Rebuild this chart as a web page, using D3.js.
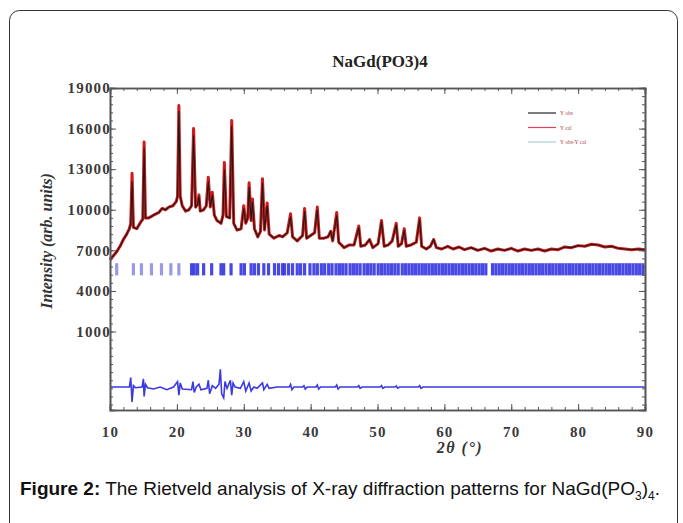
<!DOCTYPE html>
<html>
<head>
<meta charset="utf-8">
<script src="https://cdn.jsdelivr.net/npm/d3@7"></script>
<style>
  body { margin: 0; background: #fff; }
  svg { display: block; }
  .tick-label { font-family: "Liberation Serif", "DejaVu Serif", serif; font-weight: bold; fill: #3a3a3a; }
  .axis path, .axis line { stroke: #555; }
</style>
</head>
<body>
<div id="chart"></div>
<script>
// 2theta grid for observed / calculated profile
const twoTheta = [
  10.0,10.5,11.0,11.5,12.0,12.5,12.9,13.1,13.3,13.5,
  14.0,14.6,14.9,15.1,15.3,15.8,16.5,17.3,17.8,18.3,
  18.8,19.4,19.9,20.1,20.3,20.5,20.8,21.3,21.8,22.2,
  22.5,22.8,23.1,23.3,23.5,24.0,24.4,24.7,25.0,25.3,
  25.6,26.0,26.6,26.9,27.1,27.4,27.9,28.2,28.5,29.0,
  29.6,30.0,30.3,30.6,30.8,31.1,31.3,31.6,32.1,32.5,
  32.8,33.1,33.5,33.8,34.5,35.3,35.8,36.5,37.0,37.3,
  38.0,38.8,39.1,39.4,40.0,40.6,41.0,41.3,42.0,42.6,
  43.0,43.3,43.9,44.2,45.0,45.8,46.5,47.2,47.5,48.2,
  48.8,49.3,50.1,50.6,51.0,51.6,52.2,52.8,53.1,53.6,
  54.0,54.3,55.0,55.8,56.3,56.6,57.3,57.9,58.4,58.8,
  59.6,60.5,61.3,62.2,63.0,64.0,65.0,66.0,67.0,68.0,
  69.0,70.0,71.0,72.0,73.0,74.0,75.0,76.0,77.0,78.0,
  79.0,80.0,81.0,82.0,83.0,84.0,85.0,86.0,87.0,88.0,
  89.0,90.0
];

const yObs = [
  6300,6600,6900,7300,7800,8200,8600,9000,12700,8700,
  8600,9100,9300,15000,9400,9400,9600,9800,10100,10000,
  10200,10300,10600,11000,17700,11000,10300,9900,10000,10300,
  16000,10200,10400,11100,9900,10000,10300,12400,10200,11300,
  9600,9200,9000,9600,13500,9500,9400,16600,9000,8500,
  8600,10300,9000,9400,12000,9200,10800,8600,8000,8400,
  12300,8500,10500,8200,7900,8100,8000,8300,9700,8000,
  7700,8100,10100,7900,8100,8300,10200,7900,7900,8000,
  8400,7700,9800,7600,7200,7400,7400,8800,7300,7400,
  7800,7200,7500,9200,7300,7400,7700,9000,7300,7500,
  8600,7300,7400,7600,9400,7300,7100,7300,7800,7200,
  7100,7300,7100,7250,7050,7200,7000,7150,6950,7100,
  7000,7150,6950,7100,7000,7100,6950,7100,7050,7250,
  7200,7350,7300,7450,7400,7250,7300,7150,7100,7050,
  7100,7050
];

const yCalc = [
  6300,6600,6900,7300,7800,8200,8600,9000,12100,8700,
  8600,9100,9300,14600,9400,9400,9600,9800,10100,10000,
  10200,10300,10600,11000,17300,11000,10300,9900,10000,10300,
  15500,10200,10400,11000,9900,10000,10300,12100,10200,11100,
  9600,9200,9000,9600,13000,9500,9400,16200,9000,8500,
  8600,10100,9000,9400,11700,9200,10600,8600,8000,8400,
  12000,8500,10300,8200,7900,8100,8000,8300,9500,8000,
  7700,8100,9900,7900,8100,8300,10000,7900,7900,8000,
  8400,7700,9600,7600,7200,7400,7400,8700,7300,7400,
  7800,7200,7500,9100,7300,7400,7700,8900,7300,7500,
  8500,7300,7400,7600,9300,7300,7100,7300,7800,7200,
  7100,7300,7100,7250,7050,7200,7000,7150,6950,7100,
  7000,7150,6950,7100,7000,7100,6950,7100,7050,7250,
  7200,7350,7300,7450,7400,7250,7300,7150,7100,7050,
  7100,7050
];

// difference curve (Yobs - Ycalc, shifted down)
const diffTheta = [10,12.9,13.1,13.3,13.5,13.8,14.8,15.0,15.1,15.3,
  15.6,16.5,17.5,18.5,19.5,20.1,20.3,20.5,20.8,22.2,
  22.4,22.6,22.9,23.3,23.6,24.5,24.7,24.9,25.3,25.8,
  26.3,26.5,26.7,27.0,27.2,27.5,28.0,28.2,28.4,28.7,
  29.5,30.0,30.3,30.8,31.1,31.5,32.0,32.8,33.0,33.5,
  33.8,35.0,36.8,37.0,37.2,37.5,38.8,39.0,39.2,39.5,
  40.8,41.0,41.2,41.5,43.7,43.9,44.1,44.4,47.0,47.2,
  47.4,47.7,50.4,50.6,50.8,51.1,52.6,52.8,53.0,53.3,
  56.1,56.3,56.5,56.8,90];
const diffVal = [-3100,-3100,-2400,-4200,-3000,-3150,-3100,-2500,-3800,-2900,
  -3150,-3250,-3100,-3300,-3100,-2700,-3700,-2800,-3250,-3300,
  -2700,-3500,-3100,-2900,-3300,-3200,-2600,-3600,-3000,-3200,
  -2900,-1800,-3600,-3900,-2700,-3200,-2600,-3700,-2800,-3100,
  -3200,-2700,-3400,-2800,-3400,-3100,-3200,-2800,-3300,-2900,
  -3200,-3100,-3100,-2900,-3300,-3100,-3100,-3000,-3250,-3100,
  -3100,-2950,-3250,-3100,-3100,-2950,-3250,-3100,-3100,-3000,
  -3200,-3100,-3100,-3000,-3200,-3100,-3100,-3020,-3180,-3100,
  -3100,-3000,-3200,-3100,-3100];

// Bragg reflection positions
const braggPos = [11.0,13.5,14.7,16.2,17.7,19.1,20.3,22.2,22.6,23.1,24.0,25.2,26.6,27.0,28.1,29.6,30.1,31.1,31.6,32.2,
  33.0,33.7,34.6,35.2,35.8,36.1,36.7,37.3,38.0,38.5,39.1,39.9,40.5,41.0,41.6,42.1,42.7,43.2,43.8,44.3,
  44.8,45.3,45.9,46.4,46.9,47.4,48.0,48.5,49.0,49.5,50.1,50.6,51.1,51.6,52.1,52.6,53.1,53.7,54.2,54.7,
  55.2,55.7,56.2,56.7,57.2,57.7,58.2,58.7,59.2,59.7,60.2,60.7,61.2,61.7,62.2,62.7,63.2,63.7,64.2,64.7,
  65.2,65.7,66.2,67.2,67.7,68.2,68.7,69.2,69.7,70.2,70.7,71.2,71.7,72.2,72.7,73.2,73.7,74.2,74.7,75.2,
  75.7,76.2,76.7,77.2,77.7,78.2,78.7,79.2,79.7,80.2,80.7,81.2,81.7,82.2,82.7,83.2,83.7,84.2,84.7,85.2,
  85.7,86.2,86.7,87.2,87.7,88.2,88.7,89.2,89.7];
const braggTop = 6050, braggBottom = 5150;

const xTicks = [10,20,30,40,50,60,70,80,90];
const yTicks = [1000,4000,7000,10000,13000,16000,19000];
const legendLabels = ["Y obs", "Y cal", "Y obs-Y cal"];

class XrdPlot {
  constructor(_config) {
    this.config = {
      parentElement: _config.parentElement,
      containerWidth: 683,
      containerHeight: 523,
      plot: {left: 110, right: 645, top: 88, bottom: 410}
    };
    this.initVis();
  }

  initVis() {
    let vis = this;
    const p = vis.config.plot;

    vis.svg = d3.select(vis.config.parentElement).append('svg')
        .attr('width', vis.config.containerWidth)
        .attr('height', vis.config.containerHeight);

    // outer rounded frame
    vis.svg.append('rect')
        .attr('x', 9.5).attr('y', 10.5)
        .attr('width', 668).attr('height', 540)
        .attr('rx', 10)
        .attr('fill', 'none')
        .attr('stroke', '#333');

    vis.x = d3.scaleLinear().domain([10, 90]).range([p.left, p.right]);
    vis.y = d3.scaleLinear().domain([-4800, 19000]).range([p.bottom, p.top]);

    vis.svg.append('text')
        .attr('x', 380).attr('y', 67)
        .attr('text-anchor', 'middle')
        .attr('class', 'tick-label')
        .style('font-size', '17px')
        .style('fill', '#222')
        .text('NaGd(PO3)4');

    // bragg ticks
    vis.svg.append('g').selectAll('rect')
        .data(braggPos)
      .join('rect')
        .attr('x', d => vis.x(d) - 1.6)
        .attr('y', vis.y(braggTop))
        .attr('width', 3.2)
        .attr('height', vis.y(braggBottom) - vis.y(braggTop))
        .attr('fill', d => d < 22 ? '#8f8fe0' : '#3434e0')
        .attr('opacity', 0.9);

    const obs = twoTheta.map((t, i) => [t, yObs[i]]);
    const calc = twoTheta.map((t, i) => [t, yCalc[i]]);
    const diff = diffTheta.map((t, i) => [t, diffVal[i]]);
    const line = d3.line().x(d => vis.x(d[0])).y(d => vis.y(d[1]));

    vis.svg.append('path').datum(obs)
        .attr('d', line).attr('fill', 'none')
        .attr('stroke', '#d11a1a').attr('stroke-width', 3).attr('stroke-linejoin', 'round');
    vis.svg.append('path').datum(calc)
        .attr('d', line).attr('fill', 'none')
        .attr('stroke', '#1a1a1a').attr('stroke-width', 1.1);

    vis.svg.append('path').datum(diff)
        .attr('d', line).attr('fill', 'none')
        .attr('stroke', '#3a3ae0').attr('stroke-width', 1.6);

    // legend
    const legColors = ['#222', '#e0405a', '#a8d0d0'];
    const leg = vis.svg.append('g').attr('transform', 'translate(528,113)');
    leg.selectAll('line').data(legendLabels).join('line')
        .attr('x1', 0).attr('x2', 28)
        .attr('y1', (d, i) => i * 14.5).attr('y2', (d, i) => i * 14.5)
        .attr('stroke', (d, i) => legColors[i]).attr('stroke-width', 1.2);
    leg.selectAll('text').data(legendLabels).join('text')
        .attr('x', 32).attr('y', (d, i) => i * 14.5 + 2)
        .style('font-family', 'Liberation Serif, serif')
        .style('font-size', '5.5px')
        .style('fill', '#a44')
        .text(d => d);

    vis.drawAxes();
  }

  drawAxes() {
    let vis = this;
    const p = vis.config.plot;
    const xMinor = d3.range(10, 91, 2);
    const yMinor = d3.range(-4400, 19001, 600);

    const addAxis = (axis, tx, ty) => {
      const g = vis.svg.append('g').attr('class', 'axis')
          .attr('transform', `translate(${tx},${ty})`).call(axis);
      g.select('.domain').attr('stroke-width', 1.6);
      return g;
    };

    // minor ticks on all four sides
    addAxis(d3.axisBottom(vis.x).tickValues(xMinor).tickSize(-3).tickFormat(''), 0, p.bottom);
    addAxis(d3.axisTop(vis.x).tickValues(xMinor).tickSize(-3).tickFormat(''), 0, p.top);
    addAxis(d3.axisLeft(vis.y).tickValues(yMinor).tickSize(-3).tickFormat(''), p.left, 0);
    addAxis(d3.axisRight(vis.y).tickValues(yMinor).tickSize(-3).tickFormat(''), p.right, 0);

    // major ticks
    const xb = addAxis(d3.axisBottom(vis.x).tickValues(xTicks).tickSize(-6).tickPadding(16).tickFormat(d3.format('d')), 0, p.bottom);
    xb.selectAll('.tick text').attr('class', 'tick-label')
        .style('font-size', '15px').style('letter-spacing', '1.2px');
    addAxis(d3.axisTop(vis.x).tickValues(xTicks).tickSize(-6).tickFormat(''), 0, p.top);
    const yl = addAxis(d3.axisLeft(vis.y).tickValues(yTicks).tickSize(-6).tickPadding(-1).tickFormat(d3.format('d')), p.left, 0);
    yl.selectAll('.tick text').attr('class', 'tick-label')
        .style('font-size', '15px').style('letter-spacing', '1.2px');
    addAxis(d3.axisRight(vis.y).tickValues(yTicks).tickSize(-6).tickFormat(''), p.right, 0);

    vis.svg.selectAll('.axis text').attr('font-family', null).attr('font-size', null);

    // axis titles
    vis.svg.append('text')
        .attr('transform', `translate(52,${(p.top + p.bottom) / 2 - 8}) rotate(-90)`)
        .attr('text-anchor', 'middle')
        .attr('class', 'tick-label')
        .style('font-style', 'italic').style('font-size', '16px').style('fill', '#333')
        .text('Intensity (arb. units)');

    vis.svg.append('text')
        .attr('x', 460).attr('y', 453)
        .attr('text-anchor', 'middle')
        .attr('class', 'tick-label')
        .style('font-style', 'italic').style('font-size', '16px').style('letter-spacing', '1.5px').style('fill', '#333')
        .text('2θ (°)');

    // caption
    const cap = vis.svg.append('text')
        .attr('x', 20).attr('y', 495)
        .style('font-family', 'Liberation Sans, Arial, sans-serif')
        .style('font-size', '19px').style('fill', '#111');
    cap.append('tspan').style('font-weight', 'bold').text('Figure 2:');
    cap.append('tspan').text(' The Rietveld analysis of X-ray diffraction patterns for NaGd(PO');
    cap.append('tspan').attr('dy', 5).style('font-size', '12px').text('3');
    cap.append('tspan').attr('dy', -5).text(')');
    cap.append('tspan').attr('dy', 5).style('font-size', '12px').text('4');
    cap.append('tspan').attr('dy', -5).text('.');
  }
}

new XrdPlot({parentElement: '#chart'});
</script>
</body>
</html>
